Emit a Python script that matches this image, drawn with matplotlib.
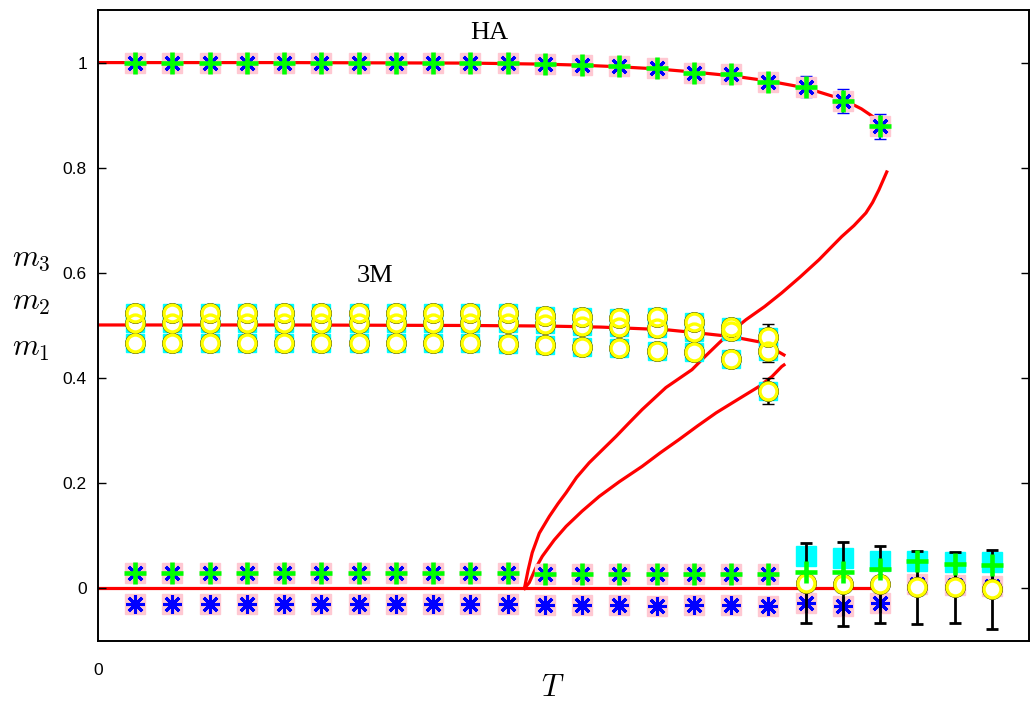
import numpy as np
import matplotlib
matplotlib.use("Agg")
import matplotlib.pyplot as plt

plt.rcParams['mathtext.fontset'] = 'cm'
plt.rcParams['font.family'] = ['Liberation Sans', 'DejaVu Sans']

# ========== data ==========
T = [1, 2, 3, 4, 5, 6, 7, 8, 9, 10, 11, 12, 13, 14, 15, 16, 17, 18, 19, 20, 21, 22, 23, 24]

# HA phase (simulation), T = 1..21 for m3, T = 1..18 for m2/m1
ha_m3 = [1.000, 1.000, 1.000, 1.000, 1.000, 1.000, 1.000, 1.000, 1.000, 0.999, 0.999,
         0.997, 0.996, 0.993, 0.989, 0.981, 0.979, 0.964, 0.954, 0.927, 0.879]
ha_m3_err = [0, 0, 0, 0, 0, 0, 0, 0, 0, 0, 0, 0, 0, 0, 0, 0, 0, 0.006, 0.020, 0.022, 0.024]
ha_m2 = [0.029, 0.029, 0.029, 0.029, 0.029, 0.029, 0.029, 0.029, 0.029, 0.029, 0.029,
         0.028, 0.028, 0.028, 0.028, 0.028, 0.028, 0.028]
ha_m1 = [-0.030, -0.030, -0.030, -0.030, -0.030, -0.030, -0.030, -0.030, -0.030, -0.030, -0.030,
         -0.031, -0.032, -0.031, -0.034, -0.031, -0.031, -0.034]

# 3M phase (simulation), T = 1..18
m3_3m = [0.524, 0.524, 0.524, 0.524, 0.524, 0.524, 0.524, 0.524, 0.524, 0.523, 0.523,
         0.519, 0.517, 0.515, 0.516, 0.506, 0.498, 0.479]
m2_3m = [0.505, 0.505, 0.505, 0.505, 0.505, 0.505, 0.505, 0.505, 0.505, 0.505, 0.505,
         0.503, 0.500, 0.498, 0.495, 0.487, 0.489, 0.451]
m1_3m = [0.467, 0.467, 0.467, 0.467, 0.467, 0.467, 0.467, 0.467, 0.467, 0.466, 0.465,
         0.463, 0.460, 0.457, 0.452, 0.450, 0.437, 0.375]
err_3m_top = [0, 0, 0, 0, 0, 0, 0, 0, 0, 0, 0, 0, 0, 0, 0, 0, 0, 0.024]
err_3m_mid = [0, 0, 0, 0, 0, 0, 0, 0, 0, 0, 0, 0, 0, 0, 0, 0, 0, 0.020]
err_3m_low = [0, 0, 0, 0, 0, 0, 0, 0, 0, 0, 0, 0, 0, 0, 0, 0, 0, 0.025]

# high temperature points, T = 19..24
para_sq = [0.061, 0.057, 0.053, 0.053, 0.051, 0.051]
para_plus = [0.032, 0.032, 0.036, 0.053, 0.046, 0.044]
para_circ = [0.011, 0.008, 0.008, 0.002, 0.002, -0.002]
para_err = [0.076, 0.080, 0.073, 0.070, 0.068, 0.075]
para_ast = [-0.027, -0.034, -0.027, 0.008, 0.006, 0.004]

# theory curves (red)
ha_curve_T = [0, 5, 10, 11, 12, 13, 14, 15, 16, 17, 18, 19, 20, 20.5, 21, 21.2]
ha_curve_m = [1.0, 1.0, 0.999, 0.998, 0.997, 0.995, 0.992, 0.988, 0.982, 0.975, 0.965,
              0.952, 0.930, 0.912, 0.888, 0.862]
m3m_curve_T = [0, 5, 10, 12, 13.5, 15.25, 16.1, 17.0, 17.75, 18.1, 18.42]
m3m_curve_m = [0.501, 0.501, 0.500, 0.499, 0.497, 0.492, 0.486, 0.479, 0.469, 0.457, 0.444]
zero_T = [0, 21]
zero_m = [0, 0]
up_T = [11.45, 11.55, 11.66, 11.85, 12.12, 12.35, 12.57, 12.85, 13.19, 13.55, 13.91, 14.25,
        14.61, 14.93, 15.25, 15.6, 15.95, 16.3, 16.68, 17.0, 17.40, 17.9, 18.36, 18.85,
        19.36, 19.65, 19.97, 20.3, 20.62, 20.8, 20.97, 21.18]
up_m = [0.0, 0.035, 0.068, 0.105, 0.137, 0.161, 0.182, 0.211, 0.239, 0.264, 0.289, 0.314,
        0.340, 0.361, 0.382, 0.399, 0.416, 0.441, 0.467, 0.488, 0.511, 0.536, 0.562, 0.592,
        0.625, 0.646, 0.669, 0.690, 0.714, 0.734, 0.758, 0.792]
lo_T = [11.45, 11.58, 11.75, 11.93, 12.25, 12.57, 13.0, 13.46, 14.0, 14.61, 15.1, 15.60,
        16.1, 16.60, 17.15, 17.75, 18.1, 18.36, 18.42]
lo_m = [0.0, 0.011, 0.038, 0.061, 0.092, 0.118, 0.147, 0.175, 0.203, 0.232, 0.258, 0.283,
        0.309, 0.334, 0.358, 0.384, 0.403, 0.422, 0.425]

PINK = '#ffc8d2'
CYAN = '#00ffff'
BLUE = '#0000ff'
GREEN = '#00ff00'
YELLOW = '#ffff00'
RED = '#ff0000'
AST = (8, 2, 0)  # 8-armed asterisk

fig = plt.figure(figsize=(10.31, 7.07), dpi=100)
ax = fig.add_axes([98 / 1031, 1 - 641 / 707, 931 / 1031, 631 / 707])


def ha_marker(x, y, plus=True, z=3):
    ax.plot(x, y, 's', ms=14.5, color=PINK, mec=PINK, ls='none', zorder=z)
    ax.plot(x, y, marker=AST, ms=13.5, mew=2.2, color=BLUE, ls='none', zorder=z + 0.1)
    if plus:
        ax.plot(x, y, '+', ms=16.5, mew=3.3, color=GREEN, ls='none', zorder=z + 0.2)


def circ_marker(x, y, z=3):
    ax.plot(x, y, 'o', ms=14, mfc='white', mec='black', mew=1.0, ls='none', zorder=z + 0.1)
    ax.plot(x, y, 'o', ms=12.2, mfc='none', mec=YELLOW, mew=2.4, ls='none', zorder=z + 0.2)


# ========== theory curves ==========
for cx, cy in [(ha_curve_T, ha_curve_m), (m3m_curve_T, m3m_curve_m), (zero_T, zero_m),
               (up_T, up_m), (lo_T, lo_m)]:
    ax.plot(cx, cy, color=RED, lw=2.3, zorder=1)

# ========== HA points ==========
T_ha = T[:21]
T18 = T[:18]
ax.errorbar(T_ha, ha_m3, yerr=ha_m3_err, fmt='none', ecolor=BLUE, elinewidth=1.5, capsize=4, zorder=2)
ha_marker(T_ha, ha_m3)
ha_marker(T18, ha_m2)
ha_marker(T18, ha_m1, plus=False)

# ========== 3M points ==========
for vals, errs in [(m1_3m, err_3m_low), (m2_3m, err_3m_mid), (m3_3m, err_3m_top)]:
    ax.errorbar(T18, vals, yerr=errs, fmt='none', ecolor='black', elinewidth=1.8, capsize=4, zorder=2)
for vals in [m1_3m, m2_3m, m3_3m]:
    ax.plot(T18, vals, 's', ms=13.5, color=CYAN, mec=CYAN, ls='none', zorder=3)
for vals in [m1_3m, m2_3m, m3_3m]:
    circ_marker(T18, vals, z=3.5)

# ========== high temperature points ==========
T_hi = T[18:]
ax.plot(T_hi, para_sq, 's', ms=14, color=CYAN, mec=CYAN, ls='none', zorder=3)
ha_marker(T_hi, para_ast, plus=False, z=3)
ax.errorbar(T_hi, para_circ, yerr=para_err, fmt='none', ecolor='black', elinewidth=2, capsize=4,
            capthick=2, zorder=3.3)
circ_marker(T_hi, para_circ, z=3.5)
ax.plot(T_hi, para_plus, '+', ms=16.5, mew=3.3, color=GREEN, ls='none', zorder=4)

# ========== axes ==========
ax.set_xlim(0, 25)
ax.set_ylim(-0.1, 1.1)
ax.set_yticks([0, 0.2, 0.4, 0.6, 0.8, 1.0])
ax.set_yticklabels(['0', '0.2', '0.4', '0.6', '0.8', '1'])
ax.set_xticks([0])
ax.set_xticklabels(['0'])
ax.tick_params(axis='y', direction='in', length=6, width=1, right=True, labelsize=12.5, pad=8)
ax.tick_params(axis='x', direction='in', length=0, labelsize=12.5, pad=16)
for s in ax.spines.values():
    s.set_linewidth(1.4)

# labels
ax.text(10.5, 1.057, 'HA', family='Liberation Serif', fontsize=19, ha='center', va='center')
ax.text(7.45, 0.595, '3M', family='Liberation Serif', fontsize=19, ha='center', va='center')
fig.text(31 / 1031, 1 - 258 / 707, r'$m_3$', fontsize=22, ha='center', va='center')
fig.text(31 / 1031, 1 - 302 / 707, r'$m_2$', fontsize=22, ha='center', va='center')
fig.text(31 / 1031, 1 - 348 / 707, r'$m_1$', fontsize=22, ha='center', va='center')
fig.text(553 / 1031, 1 - 688 / 707, r'$T$', fontsize=22, ha='center', va='center')

fig.savefig('out.png', dpi=100)
